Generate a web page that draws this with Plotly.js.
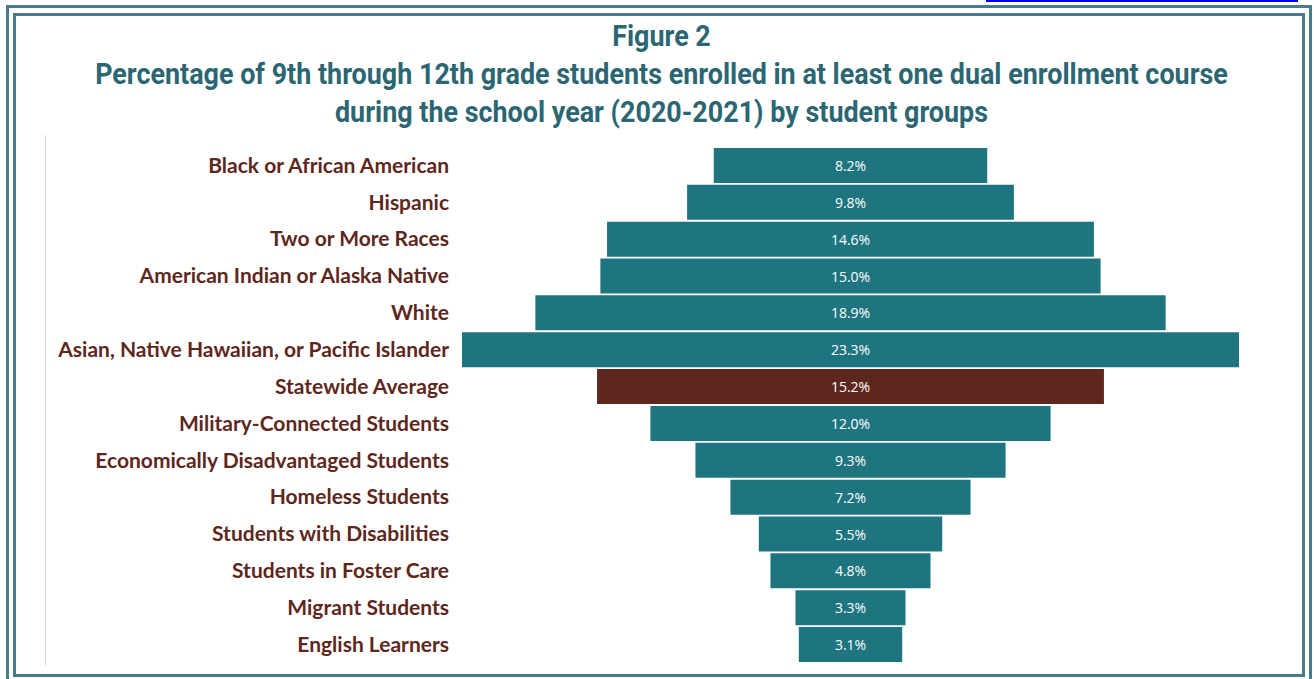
<!DOCTYPE html>
<html>
<head>
<meta charset="utf-8">
<script src="https://cdn.plot.ly/plotly-3.0.1.min.js"></script>
<style>
  html, body { margin: 0; padding: 0; background: #fff; }
  #wrap { position: relative; width: 1314px; height: 679px; overflow: hidden; }
  #chart { position: absolute; left: 0; top: 0; width: 1314px; height: 679px; }
  .frame { position: absolute; border: 3px solid #497b8a; pointer-events: none; box-sizing: border-box; }
  #outer { left: 6px; top: 5px; width: 1306px; height: 700px; }
  #inner { left: 13px; top: 13px; width: 1292px; height: 664px; }
  #link { position: absolute; left: 986px; top: 0px; width: 312px; height: 2px; background: #0000ee; }
  #vline { position: absolute; left: 45px; top: 135px; width: 1px; height: 531px; background: #d9d9d9; }
</style>
</head>
<body>
<div id="wrap">
  <div id="chart"></div>
  <div id="vline"></div>
  <div class="frame" id="outer"></div>
  <div class="frame" id="inner"></div>
  <div id="link"></div>
</div>
<script>
const categories = [
  "Black or African American",
  "Hispanic",
  "Two or More Races",
  "American Indian or Alaska Native",
  "White",
  "Asian, Native Hawaiian, or Pacific Islander",
  "Statewide Average",
  "Military-Connected Students",
  "Economically Disadvantaged Students",
  "Homeless Students",
  "Students with Disabilities",
  "Students in Foster Care",
  "Migrant Students",
  "English Learners"
];
const values = [8.2, 9.8, 14.6, 15.0, 18.9, 23.3, 15.2, 12.0, 9.3, 7.2, 5.5, 4.8, 3.3, 3.1];
const highlight = "Statewide Average";
const titleLines = [
  "Figure 2",
  "Percentage of 9th through 12th grade students enrolled in at least one dual enrollment course",
  "during the school year (2020-2021) by student groups"
];

const teal = "#1e7580";
const brown = "#5e271d";
const colors = categories.map(c => c === highlight ? brown : teal);

const trace = {
  type: "funnel",
  y: categories,
  x: values,
  orientation: "h",
  marker: { color: colors, line: { width: 0 } },
  connector: { visible: false },
  texttemplate: "%{x:.1f}%",
  textposition: "inside",
  insidetextanchor: "middle",
  textfont: { family: "Open Sans, Lato, sans-serif", size: 14, color: "#ffffff" },
  constraintext: "none",
  hoverinfo: "y+x"
};

const layout = {
  width: 1314,
  height: 679,
  margin: { l: 460, r: 73, t: 146.5, b: 15.5 },
  paper_bgcolor: "#ffffff",
  plot_bgcolor: "#ffffff",
  showlegend: false,
  title: {
    text: titleLines.join("<br>"),
    font: { family: "Roboto, sans-serif", size: 29, color: "#2b6672", weight: 700 },
    x: 661.5 / 1314,
    xanchor: "center",
    xref: "container",
    y: 0.932,
    yanchor: "top",
    yref: "container"
  },
  xaxis: {
    range: [-11.71, 11.71],
    visible: false,
    showgrid: false,
    zeroline: false,
    fixedrange: true
  },
  yaxis: {
    type: "category",
    autorange: "reversed",
    showgrid: false,
    zeroline: false,
    showline: false,
    ticks: "",
    ticklabelstandoff: 10,
    tickfont: { family: "Lato, sans-serif", size: 21, color: brown, weight: 700 },
    fixedrange: true
  },
  funnelgap: 0.05
};

Plotly.newPlot("chart", [trace], layout, { displayModeBar: false, staticPlot: true }).then(gd => {
  // Condense the title horizontally to mimic the condensed typeface of the original
  const t = gd.querySelector(".gtitle");
  if (!t) return;
  const lines = t.querySelectorAll("tspan.line");
  let w = 0;
  lines.forEach(l => { w = Math.max(w, l.getComputedTextLength()); });
  if (!w) w = t.getBBox().width;
  const target = 1133;
  const s = target / w;
  const cx = 661.5;
  const prev = t.getAttribute("transform") || "";
  t.setAttribute("transform", prev + ` translate(${cx},0) scale(${s},1) translate(${-cx},0)`);
});
</script>
</body>
</html>
